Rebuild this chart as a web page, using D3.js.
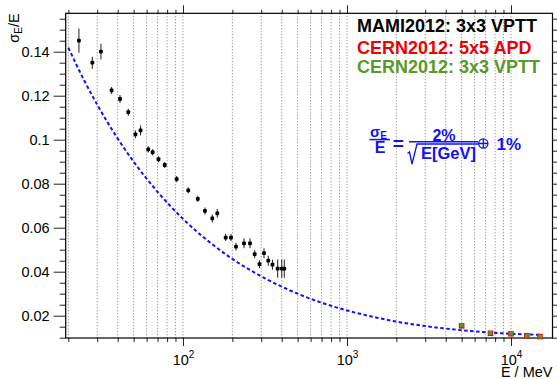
<!DOCTYPE html>
<html>
<head>
<meta charset="utf-8">
<script src="https://cdn.jsdelivr.net/npm/d3@7"></script>
<style>
  body { margin: 0; background: #fff; }
  svg { display: block; }
  text { font-family: "Liberation Sans", Arial, Helvetica, sans-serif; }
</style>
</head>
<body>
<svg id="main"></svg>
<script>

var chart = {
  width: 557,
  height: 379,
  left: 65.7,
  right: 552.5,
  top: 13.3,
  bottom: 338
}

// MAMI2012: 3x3 VPTT  (E in MeV, sigma_E/E and its error)
var mamiE = [23.2, 28.0, 31.6, 36.7, 41.3, 46.4, 51.3, 55.1, 61.4, 65.3, 70.9, 77.4, 91.5,
             107.7, 123.1, 136.1, 150.9, 161.9, 182.1, 196.2, 210.5, 235.5, 256.2, 273.6,
             292.8, 311.9, 331.2, 351.3, 377.9, 399.8, 414.7];
var mamiSigma = [0.1450, 0.1350, 0.1400, 0.1224, 0.1185, 0.1125, 0.1024, 0.1042, 0.0956, 0.0943,
                 0.0911, 0.0885, 0.0821, 0.0770, 0.0731, 0.0676, 0.0642, 0.0665, 0.0555, 0.0555,
                 0.0514, 0.0529, 0.0529, 0.0480, 0.0434, 0.0484, 0.0450, 0.0432, 0.0414, 0.0414, 0.0414];
var mamiErr = [0.0055, 0.0027, 0.0036, 0.0016, 0.0018, 0.0016, 0.0018, 0.0023, 0.0014, 0.0014,
               0.0014, 0.0014, 0.0014, 0.0014, 0.0014, 0.0016, 0.0018, 0.0020, 0.0016, 0.0016,
               0.0018, 0.0023, 0.0023, 0.0018, 0.0018, 0.0023, 0.0023, 0.0023, 0.0041, 0.0041, 0.0041];

// CERN2012 beam test
var cernE = [5000, 7500, 10000, 12500, 15000];
var apdSigma = [0.0154, 0.0120, 0.0118, 0.0109, 0.0105];   // 5x5 APD
var vpttSigma = [0.0156, 0.0121, 0.0119, 0.0109, 0.0105];  // 3x3 VPTT

// curve sigma/E = 2%/sqrt(E[GeV]) (+) 1%
var curveE = [20, 25, 30, 40, 50, 70, 100, 150, 200, 300, 500, 700, 1000, 1500, 2000, 3000, 5000, 7000, 10000, 15000];
var curveSigma = [0.1418, 0.1269, 0.1159, 0.1005, 0.0900, 0.0763, 0.0640, 0.0526, 0.0458, 0.0379,
                  0.0300, 0.0259, 0.0224, 0.0192, 0.0173, 0.0153, 0.0134, 0.0125, 0.0118, 0.0113];

var yTicks = [0.02, 0.04, 0.06, 0.08, 0.1, 0.12, 0.14];
var yTickLabels = ["0.02", "0.04", "0.06", "0.08", "0.1", "0.12", "0.14"];
var yMinor = [0.01, 0.015, 0.025, 0.03, 0.035, 0.045, 0.05, 0.055, 0.065, 0.07, 0.075, 0.085, 0.09, 0.095,
              0.105, 0.11, 0.115, 0.125, 0.13, 0.135, 0.145, 0.15, 0.155];
var xMajor = [100, 1000, 10000];
var xMajorExp = ["2", "3", "4"];
var xMinor = [20, 30, 40, 50, 60, 70, 80, 90, 200, 300, 400, 500, 600, 700, 800, 900,
              2000, 3000, 4000, 5000, 6000, 7000, 8000, 9000];

var legendLabels = ["MAMI2012: 3x3 VPTT", "CERN2012: 5x5 APD", "CERN2012: 3x3 VPTT"];
var legendColors = ["#000000", "#ee0000", "#579a2b"];

var svg = d3.select("#main")
  .attr("width", chart.width)
  .attr("height", chart.height)

var x = d3.scaleLog()
  .domain([19.27, 17910])
  .range([chart.left, chart.right])

var y = d3.scaleLinear()
  .domain([0.00986, 0.15745])
  .range([chart.bottom, chart.top])

// dotted vertical grid
svg.append("g")
  .selectAll("line")
  .data(xMinor.concat(xMajor))
  .enter().append("line")
    .attr("x1", function(d) { return x(d) })
    .attr("x2", function(d) { return x(d) })
    .attr("y1", chart.top)
    .attr("y2", chart.bottom)
    .attr("stroke", "#7a7a7a")
    .attr("stroke-width", 1)
    .attr("stroke-dasharray", "1,2")

function cleanAxis(g) {
  g.select(".domain").remove();
  g.selectAll(".tick line").attr("stroke", "#222");
}

// left axis
svg.append("g")
  .attr("transform", "translate(" + chart.left + ",0)")
  .call(d3.axisLeft(y).tickValues(yMinor).tickSize(6).tickFormat(""))
  .call(cleanAxis)

svg.append("g")
  .attr("transform", "translate(" + chart.left + ",0)")
  .call(d3.axisLeft(y).tickValues(yTicks).tickSize(12).tickPadding(4)
    .tickFormat(function(d, i) { return yTickLabels[i] }))
  .call(cleanAxis)
  .call(function(g) {
    g.selectAll("text")
      .attr("font-size", "14.5px")
      .attr("fill", "#000")
      .attr("font-family", "'Liberation Sans', Arial, sans-serif")
  })

// right axis
svg.append("g")
  .attr("transform", "translate(" + chart.right + ",0)")
  .call(d3.axisRight(y).tickValues(yMinor).tickSize(6).tickFormat(""))
  .call(cleanAxis)
svg.append("g")
  .attr("transform", "translate(" + chart.right + ",0)")
  .call(d3.axisRight(y).tickValues(yTicks).tickSize(12).tickFormat(""))
  .call(cleanAxis)

// bottom axis
svg.append("g")
  .attr("transform", "translate(0," + chart.bottom + ")")
  .call(d3.axisBottom(x).tickValues(xMinor).tickSize(4).tickFormat(""))
  .call(cleanAxis)

var bottomMajor = svg.append("g")
  .attr("transform", "translate(0," + chart.bottom + ")")
  .call(d3.axisBottom(x).tickValues(xMajor).tickSize(8).tickFormat(""))
  .call(cleanAxis)

bottomMajor.selectAll(".tick text").each(function(d, i) {
  var t = d3.select(this)
    .attr("y", 26.5)
    .attr("dy", 0)
    .attr("x", 0)
    .attr("fill", "#000")
    .attr("font-size", "14.5px")
    .attr("font-family", "'Liberation Sans', Arial, sans-serif")
    .attr("text-anchor", "middle")
  t.text(null);
  t.append("tspan").text("10");
  t.append("tspan").attr("font-size", "10px").attr("dy", -6.5).text(xMajorExp[i]);
})

// top axis
svg.append("g")
  .attr("transform", "translate(0," + chart.top + ")")
  .call(d3.axisTop(x).tickValues(xMinor).tickSize(3.5).tickFormat(""))
  .call(cleanAxis)
svg.append("g")
  .attr("transform", "translate(0," + chart.top + ")")
  .call(d3.axisTop(x).tickValues(xMajor).tickSize(8).tickFormat(""))
  .call(cleanAxis)

// frame
svg.append("rect")
  .attr("x", chart.left)
  .attr("y", chart.top)
  .attr("width", chart.right - chart.left)
  .attr("height", chart.bottom - chart.top)
  .attr("fill", "none")
  .attr("stroke", "#000")
  .attr("stroke-width", 1.2)

// axis titles
svg.append("text")
  .attr("x", chart.right)
  .attr("y", 376.5)
  .attr("text-anchor", "end")
  .attr("font-size", "14.5px")
  .text("E / MeV")

var ytitle = svg.append("text")
  .attr("transform", "translate(18.5," + chart.top + ") rotate(-90)")
  .attr("text-anchor", "end")
  .attr("font-size", "14.5px")
ytitle.append("tspan").text("σ")
ytitle.append("tspan").attr("font-size", "10px").attr("dy", 3).text("E")
ytitle.append("tspan").attr("dy", -3).text("/E")

// dashed resolution curve
var line = d3.line()
  .x(function(d) { return x(d[0]) })
  .y(function(d) { return y(d[1]) })
  .curve(d3.curveMonotoneX)

svg.append("path")
  .datum(curveE.map(function(e, i) { return [e, curveSigma[i]] }))
  .attr("d", line)
  .attr("fill", "none")
  .attr("stroke", "#1010ff")
  .attr("stroke-width", 2)
  .attr("stroke-dasharray", "3.5,2.5")

// MAMI points with error bars
var mami = svg.append("g")
  .selectAll("g")
  .data(mamiE.map(function(e, i) { return { e: e, s: mamiSigma[i], err: mamiErr[i] } }))
  .enter().append("g")

mami.append("line")
  .attr("x1", function(d) { return x(d.e) })
  .attr("x2", function(d) { return x(d.e) })
  .attr("y1", function(d) { return y(d.s + d.err) })
  .attr("y2", function(d) { return y(d.s - d.err) })
  .attr("stroke", "#333")
  .attr("stroke-width", 1.1)

mami.append("rect")
  .attr("x", function(d) { return x(d.e) - 1.9 })
  .attr("y", function(d) { return y(d.s) - 1.9 })
  .attr("width", 3.8)
  .attr("height", 3.8)
  .attr("rx", 1)
  .attr("fill", "#000")

// CERN points
svg.append("g")
  .selectAll("rect")
  .data(cernE.map(function(e, i) { return [e, apdSigma[i]] }))
  .enter().append("rect")
    .attr("x", function(d) { return x(d[0]) - 2.8 })
    .attr("y", function(d) { return y(d[1]) - 2.8 })
    .attr("width", 5.6)
    .attr("height", 5.6)
    .attr("fill", legendColors[1])

svg.append("g")
  .selectAll("rect")
  .data(cernE.map(function(e, i) { return [e, vpttSigma[i]] }))
  .enter().append("rect")
    .attr("x", function(d) { return x(d[0]) - 2 })
    .attr("y", function(d) { return y(d[1]) - 2 })
    .attr("width", 4)
    .attr("height", 4)
    .attr("fill", legendColors[2])

// legend
svg.append("g")
  .selectAll("text")
  .data(legendLabels)
  .enter().append("text")
    .attr("x", 357)
    .attr("y", function(d, i) { return [31.5, 53.5, 73][i] })
    .attr("font-size", "18px")
    .attr("font-weight", "bold")
    .attr("fill", function(d, i) { return legendColors[i] })
    .text(function(d) { return d })

// formula
var blue = "#1010ff";
var f = svg.append("g").attr("fill", blue).attr("font-weight", "bold")

var sig = f.append("text").attr("x", 370).attr("y", 136.5).attr("font-size", "15px")
sig.append("tspan").text("σ")
sig.append("tspan").attr("font-size", "10px").attr("dy", 2).text("E")
f.append("line").attr("x1", 369.5).attr("x2", 390).attr("y1", 139.6).attr("y2", 139.6)
  .attr("stroke", blue).attr("stroke-width", 1.5)
f.append("text").attr("x", 380).attr("y", 153.3).attr("text-anchor", "middle").attr("font-size", "16px").text("E")
f.append("text").attr("x", 398.3).attr("y", 149.5).attr("text-anchor", "middle").attr("font-size", "19px").text("=")

f.append("text").attr("x", 444).attr("y", 140.5).attr("text-anchor", "middle").attr("font-size", "16px").text("2%")
f.append("line").attr("x1", 409).attr("x2", 478).attr("y1", 141.8).attr("y2", 141.8)
  .attr("stroke", blue).attr("stroke-width", 1.4)
f.append("path")
  .attr("d", "M407.5,153.5 L409.5,152 L412,164 L417,144 L478,144")
  .attr("fill", "none").attr("stroke", blue).attr("stroke-width", 1.3)
f.append("text").attr("x", 448.5).attr("y", 158.5).attr("text-anchor", "middle").attr("font-size", "16.5px").text("E[GeV]")

f.append("circle").attr("cx", 483.3).attr("cy", 143.5).attr("r", 4.6)
  .attr("fill", "none").attr("stroke", blue).attr("stroke-width", 1.3)
f.append("path").attr("d", "M478.7,143.5 H487.9 M483.3,138.9 V148.1")
  .attr("stroke", blue).attr("stroke-width", 1.3)
f.append("text").attr("x", 496.5).attr("y", 149.5).attr("font-size", "17px").text("1%")

</script>
</body>
</html>
